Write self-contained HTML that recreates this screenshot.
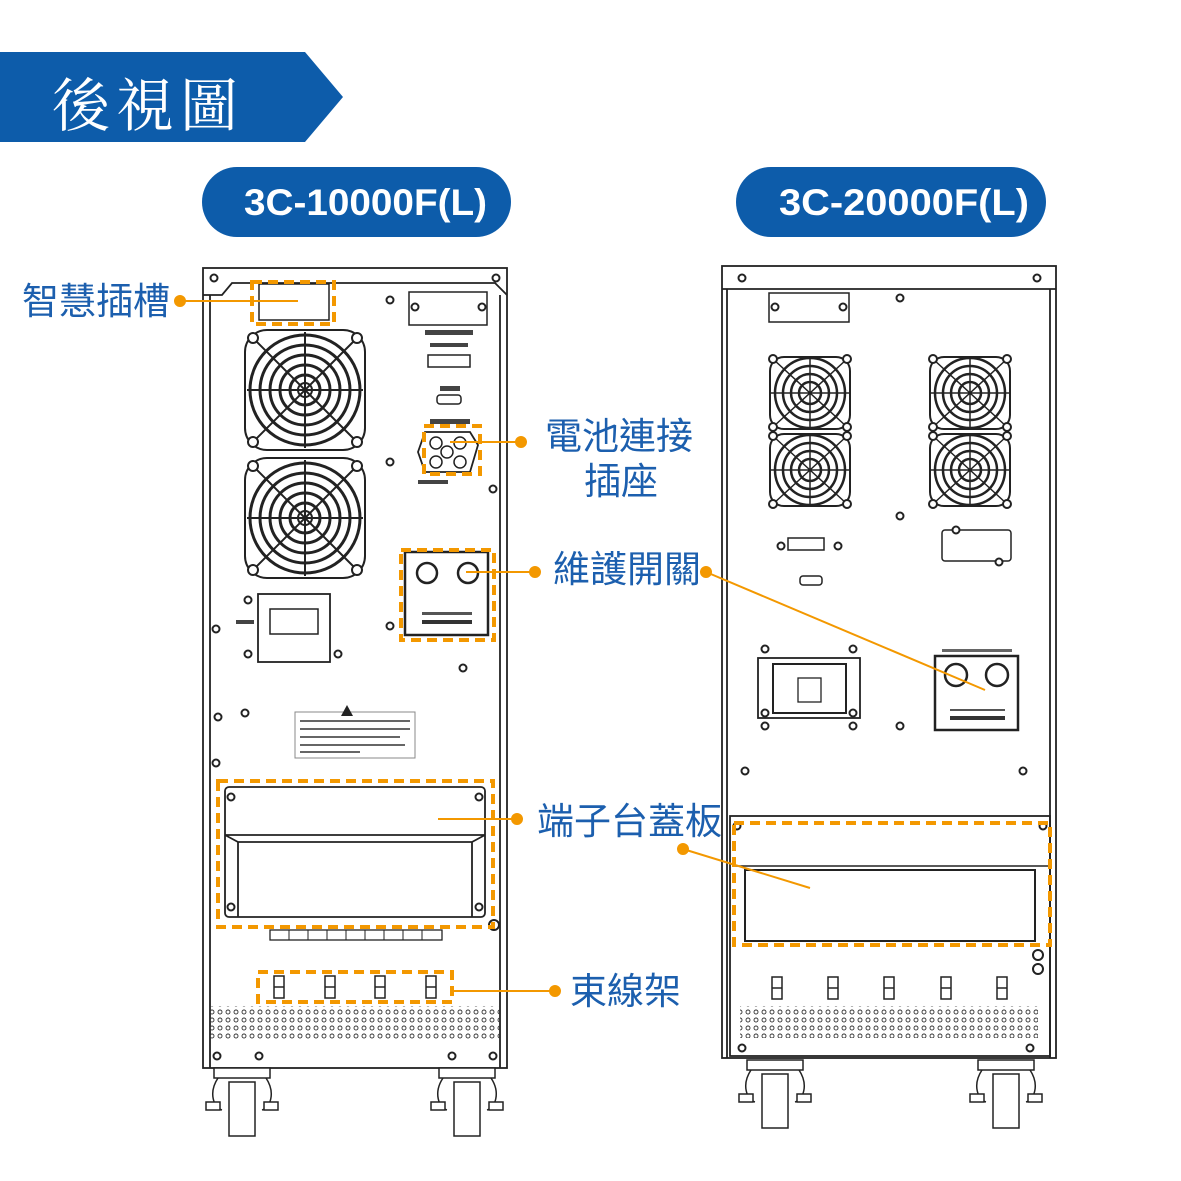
<!DOCTYPE html>
<html><head><meta charset="utf-8"><style>
html,body{margin:0;padding:0;background:#fff;}
svg{display:block;}
.lb{font-family:"Liberation Sans","Noto Sans CJK TC",sans-serif;font-size:37px;fill:#1c5fae;}
</style></head><body>
<svg width="1181" height="1181" viewBox="0 0 1181 1181" xmlns="http://www.w3.org/2000/svg">
<defs>
<pattern id="perf" x="0" y="0" width="8" height="8" patternUnits="userSpaceOnUse">
<circle cx="4" cy="4" r="2" fill="none" stroke="#333" stroke-width="0.9"/>
</pattern>
<g id="fan">
<rect x="-60" y="-60" width="120" height="120" rx="22" fill="#fff" stroke="#222" stroke-width="2"/>
<circle r="55" fill="none" stroke="#222" stroke-width="3"/>
<circle r="45" fill="none" stroke="#222" stroke-width="3"/>
<circle r="35" fill="none" stroke="#222" stroke-width="3"/>
<circle r="25" fill="none" stroke="#222" stroke-width="3"/>
<circle r="15" fill="none" stroke="#222" stroke-width="3"/>
<circle r="7" fill="none" stroke="#222" stroke-width="2"/>
<path d="M-52,-52 L52,52 M52,-52 L-52,52 M0,-58 L0,58 M-58,0 L58,0" stroke="#222" stroke-width="2"/>
<circle cx="-52" cy="-52" r="5" fill="#fff" stroke="#222" stroke-width="2"/>
<circle cx="52" cy="-52" r="5" fill="#fff" stroke="#222" stroke-width="2"/>
<circle cx="-52" cy="52" r="5" fill="#fff" stroke="#222" stroke-width="2"/>
<circle cx="52" cy="52" r="5" fill="#fff" stroke="#222" stroke-width="2"/>
</g>
<g id="fans">
<rect x="-40" y="-36" width="80" height="72" rx="14" fill="#fff" stroke="#222" stroke-width="2"/>
<circle r="35" fill="none" stroke="#222" stroke-width="2.5"/>
<circle r="27" fill="none" stroke="#222" stroke-width="2.5"/>
<circle r="19" fill="none" stroke="#222" stroke-width="2.5"/>
<circle r="11" fill="none" stroke="#222" stroke-width="2.5"/>
<path d="M-37,-34 L37,34 M37,-34 L-37,34 M0,-36 L0,36 M-40,0 L40,0" stroke="#222" stroke-width="1.5"/>
<circle cx="-37" cy="-34" r="4" fill="#fff" stroke="#222" stroke-width="2"/>
<circle cx="37" cy="-34" r="4" fill="#fff" stroke="#222" stroke-width="2"/>
<circle cx="-37" cy="34" r="4" fill="#fff" stroke="#222" stroke-width="2"/>
<circle cx="37" cy="34" r="4" fill="#fff" stroke="#222" stroke-width="2"/>
</g>
<g id="tie"><rect x="-5" y="-11" width="10" height="22" fill="#fff" stroke="#222" stroke-width="1.5"/><line x1="-5" y1="0" x2="5" y2="0" stroke="#222" stroke-width="1.5"/></g>
<g id="wheel">
<rect x="-28" y="0" width="56" height="10" fill="#fff" stroke="#222" stroke-width="1.5"/>
<path d="M-24,10 C-34,25 -28,40 -20,42 M24,10 C34,25 28,40 20,42" fill="none" stroke="#222" stroke-width="1.5"/>
<rect x="-36" y="34" width="14" height="8" fill="#fff" stroke="#222" stroke-width="1.5"/>
<rect x="22" y="34" width="14" height="8" fill="#fff" stroke="#222" stroke-width="1.5"/>
<rect x="-13" y="14" width="26" height="54" fill="#fff" stroke="#222" stroke-width="1.5"/>
</g>
<g id="scr"><circle r="3.5" fill="#fff" stroke="#222" stroke-width="2"/></g>
</defs>

<polygon points="0,52 305,52 343,97 305,142 0,142" fill="#0d5caa"/>
<text x="52" y="126" font-family="'Liberation Serif','Noto Serif CJK SC',serif" font-size="58" fill="#fff" letter-spacing="6">後視圖</text>

<rect x="202" y="167" width="309" height="70" rx="35" fill="#0d5caa"/>
<text x="244" y="215" textLength="243" lengthAdjust="spacingAndGlyphs" font-family="'Liberation Sans',sans-serif" font-weight="bold" font-size="37" fill="#fff">3C-10000F(L)</text>
<rect x="736" y="167" width="310" height="70" rx="35" fill="#0d5caa"/>
<text x="779" y="215" textLength="250" lengthAdjust="spacingAndGlyphs" font-family="'Liberation Sans',sans-serif" font-weight="bold" font-size="37" fill="#fff">3C-20000F(L)</text>

<g fill="none" stroke="#222" stroke-width="1.8">
<rect x="203" y="268" width="304" height="800" fill="#fff"/>
<path d="M203,295 L222,295 L232,283 L495,283 L507,295"/>
<line x1="210" y1="295" x2="210" y2="1068"/>
<line x1="500" y1="295" x2="500" y2="1068"/>
</g>
<use href="#scr" x="214" y="278"/><use href="#scr" x="496" y="278"/>
<rect x="259" y="284" width="70" height="36" fill="none" stroke="#222" stroke-width="1.5"/>
<use href="#scr" x="390" y="300"/>
<rect x="409" y="292" width="78" height="33" fill="none" stroke="#222" stroke-width="1.5"/>
<use href="#scr" x="415" y="307"/><use href="#scr" x="482" y="307"/>
<rect x="425" y="330" width="48" height="5" fill="#444"/>
<rect x="430" y="343" width="38" height="4" fill="#444"/>
<rect x="428" y="355" width="42" height="12" fill="none" stroke="#222" stroke-width="1.5"/>
<use href="#fan" x="305" y="390"/>
<use href="#fan" x="305" y="518"/>
<rect x="440" y="386" width="20" height="5" fill="#444"/>
<rect x="437" y="395" width="24" height="9" rx="3" fill="none" stroke="#222" stroke-width="1.5"/>
<rect x="430" y="419" width="40" height="5" fill="#444"/>
<path d="M425,432 L470,432 L478,445 L470,472 L425,472 L418,452 Z" fill="#fff" stroke="#222" stroke-width="1.8"/>
<circle cx="436" cy="443" r="6" fill="none" stroke="#222" stroke-width="1.5"/>
<circle cx="460" cy="443" r="6" fill="none" stroke="#222" stroke-width="1.5"/>
<circle cx="447" cy="452" r="6" fill="none" stroke="#222" stroke-width="1.5"/>
<circle cx="436" cy="462" r="6" fill="none" stroke="#222" stroke-width="1.5"/>
<circle cx="460" cy="462" r="6" fill="none" stroke="#222" stroke-width="1.5"/>
<rect x="418" y="480" width="30" height="4" fill="#444"/>
<use href="#scr" x="390" y="462"/><use href="#scr" x="493" y="489"/>
<rect x="405" y="552" width="83" height="83" fill="#fff" stroke="#222" stroke-width="2.5"/>
<circle cx="427" cy="573" r="10" fill="none" stroke="#222" stroke-width="2.5"/>
<circle cx="468" cy="573" r="10" fill="none" stroke="#222" stroke-width="2.5"/>
<rect x="422" y="612" width="50" height="3" fill="#555"/>
<rect x="422" y="620" width="50" height="4" fill="#333"/>
<use href="#scr" x="390" y="626"/><use href="#scr" x="463" y="668"/>
<rect x="258" y="594" width="72" height="68" fill="#fff" stroke="#222" stroke-width="1.8"/>
<rect x="270" y="609" width="48" height="25" fill="none" stroke="#222" stroke-width="1.5"/>
<use href="#scr" x="248" y="600"/><use href="#scr" x="216" y="629"/><use href="#scr" x="248" y="654"/><use href="#scr" x="338" y="654"/>
<rect x="236" y="620" width="18" height="4" fill="#444"/>
<rect x="295" y="712" width="120" height="46" fill="#fff" stroke="#888" stroke-width="1"/>
<polygon points="347,705 353,716 341,716" fill="#222"/>
<rect x="300" y="720" width="110" height="2" fill="#666"/><rect x="300" y="728" width="110" height="2" fill="#666"/><rect x="300" y="736" width="100" height="2" fill="#666"/><rect x="300" y="744" width="105" height="2" fill="#666"/><rect x="300" y="751" width="60" height="2" fill="#666"/>
<use href="#scr" x="218" y="717"/><use href="#scr" x="245" y="713"/><use href="#scr" x="216" y="763"/>
<rect x="225" y="787" width="260" height="130" rx="4" fill="#fff" stroke="#222" stroke-width="1.8"/>
<path d="M225,835 L485,835 M238,842 L472,842 M238,842 L238,917 M472,842 L472,917 M225,835 L238,842 M485,835 L472,842" fill="none" stroke="#222" stroke-width="1.8"/>
<use href="#scr" x="231" y="797"/><use href="#scr" x="479" y="797"/><use href="#scr" x="231" y="907"/><use href="#scr" x="479" y="907"/>
<rect x="270" y="930" width="172" height="10" fill="#fff" stroke="#222" stroke-width="1.3"/>
<g stroke="#222" stroke-width="1"><line x1="289" y1="930" x2="289" y2="940"/><line x1="308" y1="930" x2="308" y2="940"/><line x1="327" y1="930" x2="327" y2="940"/><line x1="346" y1="930" x2="346" y2="940"/><line x1="365" y1="930" x2="365" y2="940"/><line x1="384" y1="930" x2="384" y2="940"/><line x1="403" y1="930" x2="403" y2="940"/><line x1="422" y1="930" x2="422" y2="940"/></g>
<circle cx="494" cy="925" r="5" fill="#fff" stroke="#222" stroke-width="2"/>
<use href="#tie" x="279" y="987"/><use href="#tie" x="330" y="987"/><use href="#tie" x="380" y="987"/><use href="#tie" x="431" y="987"/>
<rect x="210" y="1006" width="290" height="33" fill="url(#perf)"/>
<use href="#scr" x="217" y="1056"/><use href="#scr" x="259" y="1056"/><use href="#scr" x="452" y="1056"/><use href="#scr" x="493" y="1056"/>
<use href="#wheel" x="242" y="1068"/><use href="#wheel" x="467" y="1068"/>

<g fill="none" stroke="#222" stroke-width="1.8">
<rect x="722" y="266" width="334" height="792" fill="#fff"/>
<line x1="722" y1="289" x2="1056" y2="289"/>
<line x1="727" y1="289" x2="727" y2="1058"/>
<line x1="1050" y1="289" x2="1050" y2="1058"/>
<rect x="730" y="816" width="320" height="240"/>
</g>
<use href="#scr" x="742" y="278"/><use href="#scr" x="1037" y="278"/>
<rect x="769" y="293" width="80" height="29" fill="none" stroke="#222" stroke-width="1.5"/>
<use href="#scr" x="775" y="307"/><use href="#scr" x="843" y="307"/><use href="#scr" x="900" y="298"/>
<use href="#fans" x="810" y="393"/><use href="#fans" x="970" y="393"/>
<use href="#fans" x="810" y="470"/><use href="#fans" x="970" y="470"/>
<use href="#scr" x="900" y="516"/>
<rect x="788" y="538" width="36" height="12" fill="none" stroke="#222" stroke-width="1.5"/>
<use href="#scr" x="781" y="546"/><use href="#scr" x="838" y="546"/>
<rect x="800" y="576" width="22" height="9" rx="3" fill="none" stroke="#222" stroke-width="1.5"/>
<rect x="942" y="530" width="69" height="31" rx="3" fill="none" stroke="#222" stroke-width="1.5"/>
<use href="#scr" x="956" y="530"/><use href="#scr" x="999" y="562"/>
<rect x="758" y="658" width="102" height="60" fill="#fff" stroke="#222" stroke-width="1.8"/>
<rect x="773" y="664" width="73" height="49" fill="none" stroke="#222" stroke-width="2"/>
<rect x="798" y="678" width="23" height="24" fill="none" stroke="#222" stroke-width="1.3"/>
<use href="#scr" x="765" y="649"/><use href="#scr" x="853" y="649"/><use href="#scr" x="765" y="713"/><use href="#scr" x="853" y="713"/>
<use href="#scr" x="765" y="726"/><use href="#scr" x="853" y="726"/><use href="#scr" x="900" y="726"/>
<rect x="935" y="656" width="83" height="74" fill="#fff" stroke="#222" stroke-width="2.5"/>
<circle cx="956" cy="675" r="11" fill="none" stroke="#222" stroke-width="2.5"/>
<circle cx="997" cy="675" r="11" fill="none" stroke="#222" stroke-width="2.5"/>
<rect x="950" y="709" width="55" height="2" fill="#555"/><rect x="950" y="716" width="55" height="4" fill="#333"/>
<rect x="942" y="649" width="70" height="3" fill="#666"/>
<use href="#scr" x="745" y="771"/><use href="#scr" x="1023" y="771"/>
<rect x="745" y="870" width="290" height="71" fill="none" stroke="#222" stroke-width="2"/>
<line x1="733" y1="866" x2="1048" y2="866" stroke="#222" stroke-width="1.5"/>
<use href="#scr" x="737" y="826"/><use href="#scr" x="1043" y="826"/>
<circle cx="1038" cy="955" r="5" fill="#fff" stroke="#222" stroke-width="2"/>
<circle cx="1038" cy="969" r="5" fill="#fff" stroke="#222" stroke-width="2"/>
<use href="#tie" x="777" y="988"/><use href="#tie" x="833" y="988"/><use href="#tie" x="889" y="988"/><use href="#tie" x="946" y="988"/><use href="#tie" x="1002" y="988"/>
<rect x="740" y="1006" width="298" height="32" fill="url(#perf)"/>
<use href="#scr" x="742" y="1048"/><use href="#scr" x="1030" y="1048"/>
<use href="#wheel" x="775" y="1060"/><use href="#wheel" x="1006" y="1060"/>

<g fill="none" stroke="#f39800" stroke-width="4" stroke-dasharray="10,6">
<rect x="252" y="282" width="82" height="42"/>
<rect x="424" y="426" width="56" height="48"/>
<rect x="401" y="550" width="93" height="90"/>
<rect x="218" y="781" width="275" height="146"/>
<rect x="258" y="972" width="194" height="30"/>
<rect x="734" y="823" width="316" height="122"/>
</g>
<g stroke="#f39800" stroke-width="2" fill="#f39800">
<line x1="180" y1="301" x2="298" y2="301"/><circle cx="180" cy="301" r="5"/>
<line x1="450" y1="442" x2="521" y2="442"/><circle cx="521" cy="442" r="5"/>
<line x1="466" y1="572" x2="535" y2="572"/><circle cx="535" cy="572" r="5"/>
<line x1="706" y1="572" x2="985" y2="690"/><circle cx="706" cy="572" r="5"/>
<line x1="438" y1="819" x2="517" y2="819"/><circle cx="517" cy="819" r="5"/>
<line x1="683" y1="849" x2="810" y2="888"/><circle cx="683" cy="849" r="5"/>
<line x1="452" y1="991" x2="555" y2="991"/><circle cx="555" cy="991" r="5"/>
</g>
<text class="lb" x="22" y="314">智慧插槽</text>
<text class="lb" x="545" y="449">電池連接</text>
<text class="lb" x="584" y="494">插座</text>
<text class="lb" x="553" y="582">維護開關</text>
<text class="lb" x="537" y="834">端子台蓋板</text>
<text class="lb" x="570" y="1004">束線架</text>
</svg>
</body></html>
